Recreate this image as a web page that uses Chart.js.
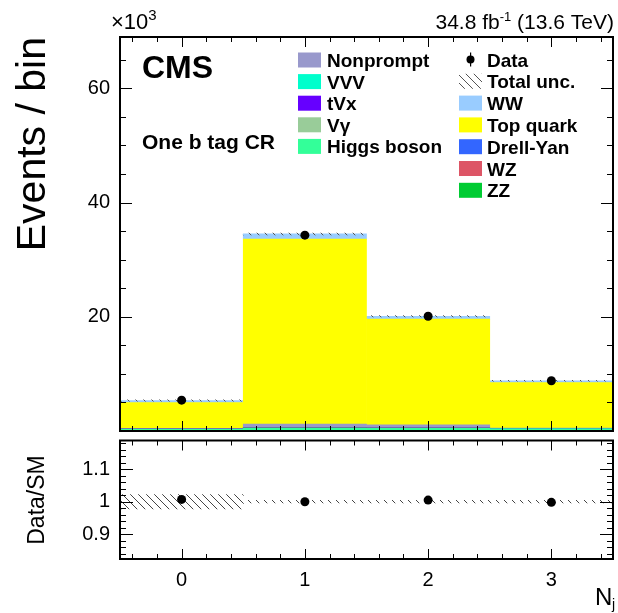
<!DOCTYPE html>
<html>
<head>
<meta charset="utf-8">
<script src="https://cdn.jsdelivr.net/npm/chart.js@4.4.1/dist/chart.umd.min.js"></script>
<style>
  body { margin: 0; background: #fff; width: 618px; height: 613px; position: relative; overflow: hidden; }
  #mainBox { position: absolute; left: 0; top: 0; width: 618px; height: 436px; }
  #ratioBox { position: absolute; left: 0; top: 436px; width: 618px; height: 177px; }
</style>
</head>
<body>
<div id="mainBox"><canvas id="mainChart" width="618" height="436"></canvas></div>
<div id="ratioBox"><canvas id="ratioChart" width="618" height="177"></canvas></div>
<script>
// bins of N_j, events in units of 10^3
const bins = [0, 1, 2, 3];
const dataEvents = [5.4, 34.3, 20.1, 8.8];
const topQuark = [4.55, 32.4, 18.5, 8.0];
const ww = [0.35, 0.9, 0.5, 0.3];
const higgs = [0.3, 0.45, 0.45, 0.35];
const nonprompt = [0.05, 0.6, 0.5, 0.08];
const vvv = [0.01, 0.02, 0.02, 0.01];
const tvx = [0.01, 0.03, 0.03, 0.01];
const vgamma = [0.02, 0.03, 0.02, 0.01];
const drellYan = [0.03, 0.05, 0.03, 0.02];
const wz = [0.01, 0.02, 0.02, 0.01];
const zz = [0.005, 0.01, 0.01, 0.005];
const totalUnc = [0.12, 0.15, 0.12, 0.08];

// ratio panel
const ratioValues = [1.007, 1.0, 1.005, 0.998];
const ratioUnc = [0.022, 0.004, 0.004, 0.004];

// tick labels
const yTicksMain = [20, 40, 60];
const yTicksRatio = [0.9, 1, 1.1];
const xTicks = [0, 1, 2, 3];

const FONT = '"Liberation Sans", Arial, Helvetica, sans-serif';

// stacking order, bottom to top
const stackOrder = [
  { label: "Higgs boson", values: higgs, color: "#33ff99" },
  { label: "VVV", values: vvv, color: "#00ffcc" },
  { label: "tVx", values: tvx, color: "#6600ff" },
  { label: "Vγ", values: vgamma, color: "#99cc99" },
  { label: "ZZ", values: zz, color: "#00cc33" },
  { label: "WZ", values: wz, color: "#dd5566" },
  { label: "Drell-Yan", values: drellYan, color: "#3366ff" },
  { label: "Nonprompt", values: nonprompt, color: "#9999cc" },
  { label: "Top quark", values: topQuark, color: "#ffff00" },
  { label: "WW", values: ww, color: "#99ccff" }
];
const colorOf = {};
stackOrder.forEach(s => colorOf[s.label] = s.color);

function makeHatch(ctx, color, step) {
  const c = document.createElement("canvas");
  c.width = step; c.height = step;
  const g = c.getContext("2d");
  g.strokeStyle = color;
  g.lineWidth = 1;
  g.beginPath();
  g.moveTo(0, 0); g.lineTo(step, step);
  g.moveTo(-1, step - 1); g.lineTo(1, step + 1);
  g.moveTo(step - 1, -1); g.lineTo(step + 1, 1);
  g.stroke();
  return ctx.createPattern(c, "repeat");
}

function eachTick(min, max, step, major, fn) {
  const k0 = Math.ceil(min / step - 1e-9), k1 = Math.floor(max / step + 1e-9);
  for (let k = k0; k <= k1; k++) {
    const v = k * step;
    fn(v, Math.abs(v / major - Math.round(v / major)) < 1e-6);
  }
}

// scale callbacks: fixed axis sizes, no extra label padding
function fixWidth(w) {
  return s => { s.width = w; s.paddingTop = 0; s.paddingBottom = 0; };
}
function fixHeight(h) {
  return s => { s.height = h; s.paddingLeft = 0; s.paddingRight = 0; };
}

// inward ROOT-like ticks on all four sides plus frame
function framePlugin(spec) {
  return {
    id: "frame",
    afterDatasetsDraw(chart) {
      const ctx = chart.ctx, a = chart.chartArea;
      const xs = chart.scales.x, ys = chart.scales.y;
      ctx.save();
      ctx.strokeStyle = "#000";
      ctx.lineWidth = 1;
      ctx.beginPath();
      eachTick(xs.min, xs.max, spec.xMinor, spec.xMajor, (v, major) => {
        const px = Math.round(xs.getPixelForValue(v)) + 0.5;
        const len = major ? spec.xMajorLen : spec.xMinorLen;
        ctx.moveTo(px, a.bottom); ctx.lineTo(px, a.bottom - len);
        ctx.moveTo(px, a.top); ctx.lineTo(px, a.top + len);
      });
      eachTick(ys.min, ys.max, spec.yMinor, spec.yMajor, (v, major) => {
        const py = Math.round(ys.getPixelForValue(v)) + 0.5;
        const len = major ? spec.yMajorLen : spec.yMinorLen;
        ctx.moveTo(a.left, py); ctx.lineTo(a.left + len, py);
        ctx.moveTo(a.right, py); ctx.lineTo(a.right - len, py);
      });
      ctx.stroke();
      ctx.lineWidth = 2;
      ctx.strokeRect(a.left, a.top, a.right - a.left, a.bottom - a.top);
      ctx.restore();
    }
  };
}

function textWithSup(ctx, parts, x, y, align) {
  // parts: [text, size, dy]
  let total = 0;
  parts.forEach(p => { ctx.font = p[1] + "px " + FONT; total += ctx.measureText(p[0]).width; });
  let cx = align === "right" ? x - total : x;
  ctx.textAlign = "left";
  parts.forEach(p => {
    ctx.font = p[1] + "px " + FONT;
    ctx.fillText(p[0], cx, y + p[2]);
    cx += ctx.measureText(p[0]).width;
  });
}

const mainCtx = document.getElementById("mainChart").getContext("2d");
const ratioCtx = document.getElementById("ratioChart").getContext("2d");
const hatchMain = makeHatch(mainCtx, "#555", 8);
const hatchRatio = makeHatch(ratioCtx, "#444", 8);

// floating bars built from the stacked contributions
let base = bins.map(() => 0);
const barSets = stackOrder.map(s => {
  const d = bins.map((b, i) => ({ x: b, y: [base[i], base[i] + s.values[i]] }));
  base = base.map((v, i) => v + s.values[i]);
  return { type: "bar", label: s.label, data: d, backgroundColor: s.color, order: 2 };
});
const totals = base.slice();

const mainTextPlugin = {
  id: "mainText",
  afterDraw(chart) {
    const ctx = chart.ctx;
    ctx.save();
    ctx.fillStyle = "#000";
    ctx.textBaseline = "alphabetic";
    textWithSup(ctx, [["×10", 22, 0], ["3", 15, -9]], 111, 29, "left");
    textWithSup(ctx, [["34.8 fb", 21, 0], ["-1", 13, -8], [" (13.6 TeV)", 21, 0]], 614, 29, "right");

    ctx.font = "bold 32px " + FONT;
    ctx.textAlign = "left";
    ctx.fillText("CMS", 142, 78);
    ctx.font = "bold 21px " + FONT;
    ctx.fillText("One b tag CR", 142, 149);

    // y title
    ctx.save();
    ctx.translate(45, 37);
    ctx.rotate(-Math.PI / 2);
    ctx.font = "41px " + FONT;
    ctx.textAlign = "right";
    ctx.fillText("Events / bin", 0, 0);
    ctx.restore();

    // legend
    const left = ["Nonprompt", "VVV", "tVx", "Vγ", "Higgs boson"];
    const right = ["Data", "Total unc.", "WW", "Top quark", "Drell-Yan", "WZ", "ZZ"];
    ctx.font = "bold 19px " + FONT;
    ctx.textAlign = "left";
    left.forEach((lab, k) => {
      const cy = 60 + k * 21.6;
      ctx.fillStyle = colorOf[lab];
      ctx.fillRect(298, cy - 7.5, 23, 15);
      ctx.fillStyle = "#000";
      ctx.fillText(lab, 327, cy + 7);
    });
    right.forEach((lab, k) => {
      const cy = 59.5 + k * 21.8;
      if (lab === "Data") {
        ctx.fillStyle = "#000";
        ctx.beginPath();
        ctx.arc(470.5, cy, 4, 0, Math.PI * 2);
        ctx.fill();
        ctx.fillRect(470, cy - 7, 1.2, 14);
      } else if (lab === "Total unc.") {
        ctx.fillStyle = hatchMain;
        ctx.fillRect(459, cy - 7.5, 23, 15);
      } else {
        ctx.fillStyle = colorOf[lab];
        ctx.fillRect(459, cy - 7.5, 23, 15);
      }
      ctx.fillStyle = "#000";
      ctx.fillText(lab, 487, cy + 7);
    });
    ctx.restore();
  }
};

new Chart(mainCtx, {
  type: "bar",
  data: {
    datasets: [
      ...barSets,
      {
        type: "bar", label: "Total unc.", order: 1,
        data: bins.map((b, i) => ({ x: b, y: [totals[i] - totalUnc[i], totals[i] + totalUnc[i]] })),
        backgroundColor: hatchMain
      },
      {
        type: "scatter", label: "Data", order: 0,
        data: bins.map((b, i) => ({ x: b, y: dataEvents[i] })),
        pointRadius: 4.5, pointBackgroundColor: "#000", pointBorderWidth: 0
      }
    ]
  },
  options: {
    responsive: false,
    animation: false,
    layout: { padding: { left: 0, top: 37, right: 5, bottom: 5 } },
    datasets: { bar: { grouped: false, barPercentage: 1, categoryPercentage: 1, borderWidth: 0 } },
    plugins: { legend: { display: false }, tooltip: { enabled: false } },
    scales: {
      x: {
        type: "linear", min: -0.5, max: 3.5, offset: false, display: false,
        afterBuildTicks: s => { s.ticks = xTicks.map(v => ({ value: v })); }
      },
      y: {
        min: 0, max: 69,
        grid: { display: false, drawTicks: false },
        border: { display: false },
        afterBuildTicks: s => { s.ticks = yTicksMain.map(v => ({ value: v })); },
        afterFit: fixWidth(120),
        ticks: { font: { family: FONT, size: 20 }, color: "#000", padding: 10, callback: v => String(v) }
      }
    }
  },
  plugins: [framePlugin({ xMinor: 0.2, xMajor: 1, xMajorLen: 10, xMinorLen: 5, yMinor: 5, yMajor: 20, yMajorLen: 12, yMinorLen: 6 }), mainTextPlugin]
});

const ratioTextPlugin = {
  id: "ratioText",
  afterDraw(chart) {
    const ctx = chart.ctx;
    ctx.save();
    ctx.fillStyle = "#000";
    ctx.save();
    ctx.translate(44, 64);
    ctx.rotate(-Math.PI / 2);
    ctx.font = "23px " + FONT;
    ctx.textAlign = "center";
    ctx.fillText("Data/SM", 0, 0);
    ctx.restore();
    ctx.font = "24px " + FONT;
    ctx.textAlign = "left";
    ctx.fillText("N", 595, 169);
    ctx.font = "14px " + FONT;
    ctx.fillText("j", 612, 173);
    ctx.restore();
  }
};

new Chart(ratioCtx, {
  type: "bar",
  data: {
    datasets: [
      {
        type: "bar", label: "Total unc.", order: 1,
        data: bins.map((b, i) => ({ x: b, y: [1 - ratioUnc[i], 1 + ratioUnc[i]] })),
        backgroundColor: hatchRatio
      },
      {
        type: "scatter", label: "Data", order: 0,
        data: bins.map((b, i) => ({ x: b, y: ratioValues[i] })),
        pointRadius: 4.5, pointBackgroundColor: "#000", pointBorderWidth: 0
      }
    ]
  },
  options: {
    responsive: false,
    animation: false,
    layout: { padding: { left: 0, top: 1, right: 5, bottom: 0 } },
    datasets: { bar: { grouped: false, barPercentage: 1, categoryPercentage: 1, borderWidth: 0 } },
    plugins: { legend: { display: false }, tooltip: { enabled: false } },
    scales: {
      x: {
        type: "linear", min: -0.5, max: 3.5, offset: false,
        grid: { display: false, drawTicks: false },
        border: { display: false },
        afterBuildTicks: s => { s.ticks = xTicks.map(v => ({ value: v })); },
        afterFit: fixHeight(54),
        ticks: { font: { family: FONT, size: 20 }, color: "#000", padding: 9, maxRotation: 0, autoSkip: false, callback: v => String(v) }
      },
      y: {
        min: 0.824, max: 1.188,
        grid: { display: false, drawTicks: false },
        border: { display: false },
        afterBuildTicks: s => { s.ticks = yTicksRatio.map(v => ({ value: v })); },
        afterFit: fixWidth(120),
        ticks: { font: { family: FONT, size: 20 }, color: "#000", padding: 10, callback: v => String(+v.toFixed(2)) }
      }
    }
  },
  plugins: [framePlugin({ xMinor: 0.2, xMajor: 1, xMajorLen: 10, xMinorLen: 5, yMinor: 0.02, yMajor: 0.1, yMajorLen: 13, yMinorLen: 6 }), ratioTextPlugin]
});
</script>
</body>
</html>
